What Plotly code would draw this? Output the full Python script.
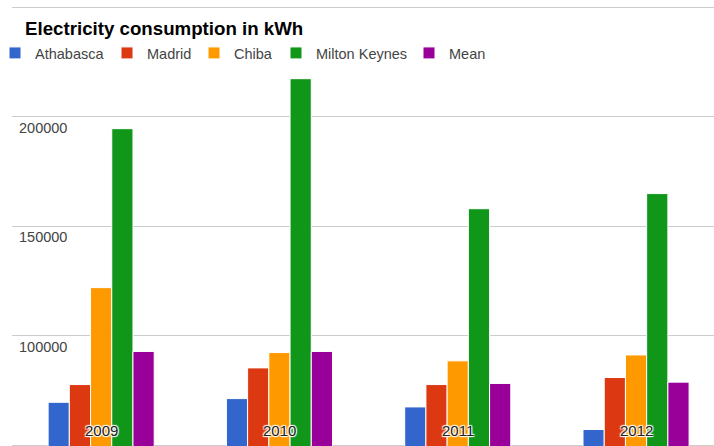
import plotly.graph_objects as go

years = ["2009", "2010", "2011", "2012"]
athabasca = [69700, 71400, 67600, 57300]
madrid = [77800, 85400, 77800, 81000]
chiba = [122000, 92400, 88600, 91300]
milton_keynes = [194500, 217300, 158000, 164900]
mean = [92900, 92900, 78300, 78900]

series_names = ["Athabasca", "Madrid", "Chiba", "Milton Keynes", "Mean"]
series_values = [athabasca, madrid, chiba, milton_keynes, mean]
colors = ["#3366cc", "#dc3912", "#ff9900", "#109618", "#990099"]

y_ticks = [100000, 150000, 200000]
y_tick_labels = ["100000", "150000", "200000"]
y_min, y_max = 50000, 250000

W, H = 714, 449          # a little taller than the 446px window so the base gridline shows
TOP = 4
FONT = "Arial, 'Liberation Sans', sans-serif"
k = (y_max - y_min) / 438.5   # value per pixel

# legend square left edges in the reference (px) -> one legend per series
legend_square_px = [12, 124, 211, 293, 426]

fig = go.Figure()
for i, (name, vals, col) in enumerate(zip(series_names, series_values, colors)):
    fig.add_trace(go.Bar(
        x=years, y=vals, name=name,
        legend="legend" if i == 0 else f"legend{i + 1}",
        marker=dict(color=col, line=dict(color="white", width=1)),
    ))

annotations = []
for v, t in zip(y_ticks, y_tick_labels):
    annotations.append(dict(
        x=5 / 702, xref="paper", xanchor="left",
        y=v, yref="y", yanchor="top", yshift=-1,
        text=t, showarrow=False,
        font=dict(family=FONT, size=14.5, color="#444444"),
    ))
for idx, yr in enumerate(years):
    annotations.append(dict(
        x=idx, xref="x", y=y_min, yref="y", yanchor="bottom", yshift=5,
        text=yr, showarrow=False,
        font=dict(family=FONT, size=15, color="#222222",
                  shadow="1px 1px 1px #fff, -1px -1px 1px #fff, 1px -1px 1px #fff, -1px 1px 1px #fff"),
    ))

legend_common = dict(orientation="h", xref="paper", xanchor="left",
                     yref="container", y=1 - 53 / H, yanchor="middle",
                     font=dict(family=FONT, size=14.5, color="#444444"),
                     bgcolor="rgba(0,0,0,0)")
legends = {}
for i, px in enumerate(legend_square_px):
    key = "legend" if i == 0 else f"legend{i + 1}"
    legends[key] = dict(legend_common, x=(px - 3 - 14 - 12) / 702)

fig.update_layout(
    width=W, height=H,
    margin=dict(l=12, r=0, t=TOP, b=0, autoexpand=False),
    paper_bgcolor="white", plot_bgcolor="white",
    barmode="group", bargap=0.405, bargroupgap=0,
    title=dict(text="<b>Electricity consumption in kWh</b>",
               xref="container", x=25 / W, xanchor="left",
               yref="container", y=1 - 28 / H, yanchor="middle",
               font=dict(family=FONT, size=18.7, color="#000000")),
    xaxis=dict(type="category", range=[-0.5, -0.5 + 702 / 178.3], showticklabels=False,
               showgrid=False, zeroline=False, showline=False, fixedrange=True),
    yaxis=dict(range=[y_min - 3.5 * k, y_max + 3 * k], tick0=0, dtick=50000,
               showticklabels=False, showgrid=True, gridcolor="#cccccc", gridwidth=1,
               zeroline=False, showline=False),
    annotations=annotations,
    showlegend=True,
    **legends,
)

fig.write_html("out.html", config={"displayModeBar": False},
               post_script="document.body.style.margin='0';document.body.style.overflow='hidden';")
